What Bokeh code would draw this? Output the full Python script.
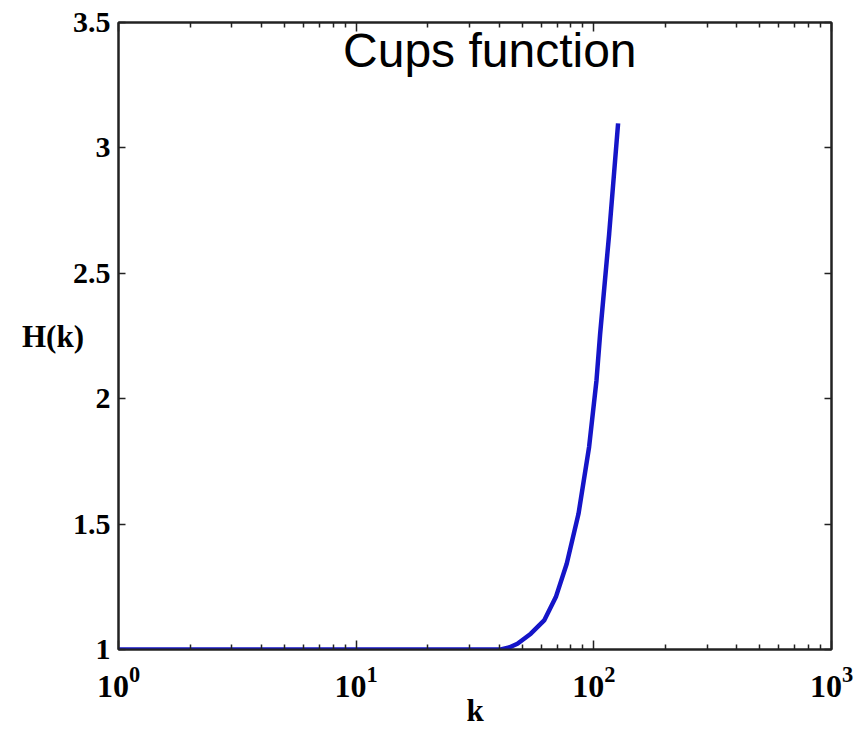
from bokeh.plotting import figure
from bokeh.models import Range1d, FixedTicker, LogAxis, LinearAxis, Label
from bokeh.embed import file_html
from bokeh.resources import INLINE

# ---- data ----
k_values = [1, 5, 10, 20, 30, 40.6, 44.0, 47.7, 54.3, 61.8, 69.2, 76.9, 86.2,
            95.5, 102.6, 106.3, 116.0, 126.5]
h_values = [1.0, 1.0, 1.0, 1.0, 1.0, 1.0, 1.008, 1.023, 1.063, 1.116, 1.209,
            1.342, 1.541, 1.807, 2.073, 2.259, 2.657, 3.098]

x_major_ticks = [1, 10, 100, 1000]
x_minor_ticks = [2, 3, 4, 5, 6, 7, 8, 9,
                 20, 30, 40, 50, 60, 70, 80, 90,
                 200, 300, 400, 500, 600, 700, 800, 900]
y_ticks = [1, 1.5, 2, 2.5, 3, 3.5]
y_tick_labels = ["1", "1.5", "2", "2.5", "3", "3.5"]

title_text = "Cups function"
x_label = "k"
y_label = "H(k)"

SERIF = "Liberation Serif"

p = figure(width=865, height=731, x_axis_type="log",
           x_range=Range1d(1, 1000), y_range=Range1d(1, 3.5),
           output_backend="svg", toolbar_location=None,
           min_border_left=118, min_border_right=34,
           min_border_top=22, min_border_bottom=82)
p.title.visible = False
p.background_fill_color = "white"
p.border_fill_color = "white"
p.outline_line_color = "#222222"
p.outline_line_width = 2
p.xgrid.visible = False
p.ygrid.visible = False

p.line(k_values, h_values, line_color="#1515c8", line_width=4.5)

# bottom x axis
xa = p.xaxis[0]
xa.ticker = FixedTicker(ticks=x_major_ticks, minor_ticks=x_minor_ticks)
xa.major_tick_in = 9
xa.major_tick_out = 0
xa.minor_tick_in = 5
xa.minor_tick_out = 0
xa.axis_line_width = 2
xa.axis_line_color = "#222222"
xa.major_tick_line_color = "#222222"
xa.minor_tick_line_color = "#222222"
xa.major_tick_line_width = 1.5
xa.minor_tick_line_width = 1.5
xa.major_label_text_font = SERIF
xa.major_label_text_font_style = "bold"
xa.major_label_text_font_size = "32px"
xa.major_label_text_color = "black"
xa.major_label_standoff = 17
xa.axis_label = x_label
xa.axis_label_text_font = SERIF
xa.axis_label_text_font_style = "bold"
xa.axis_label_text_font_size = "31px"
xa.axis_label_text_color = "black"
xa.axis_label_standoff = -7

# top x axis (ticks only)
xt = LogAxis(ticker=FixedTicker(ticks=x_major_ticks, minor_ticks=x_minor_ticks),
             major_label_text_font_size="2px", major_label_text_color=None,
             major_label_standoff=0,
             major_tick_in=9, major_tick_out=0,
             minor_tick_in=5, minor_tick_out=0,
             axis_line_width=2, axis_line_color="#222222",
             major_tick_line_color="#222222", minor_tick_line_color="#222222",
             major_tick_line_width=1.5, minor_tick_line_width=1.5)
p.add_layout(xt, "above")

# left y axis
ya = p.yaxis[0]
ya.ticker = FixedTicker(ticks=y_ticks)
ya.major_label_overrides = dict(zip(y_ticks, y_tick_labels))
ya.major_tick_in = 7
ya.major_tick_out = 0
ya.minor_tick_line_color = None
ya.axis_line_width = 2
ya.axis_line_color = "#222222"
ya.major_tick_line_color = "#222222"
ya.major_tick_line_width = 1.5
ya.major_label_text_font = SERIF
ya.major_label_text_font_style = "bold"
ya.major_label_text_font_size = "30px"
ya.major_label_text_color = "black"
ya.major_label_standoff = 8
ya.axis_label = y_label
ya.axis_label_orientation = "horizontal"
ya.axis_label_text_font = SERIF
ya.axis_label_text_font_style = "bold"
ya.axis_label_text_font_size = "31px"
ya.axis_label_text_color = "black"
ya.axis_label_standoff = -14

# right y axis (ticks only)
yr = LinearAxis(ticker=FixedTicker(ticks=y_ticks),
                major_label_text_font_size="2px", major_label_text_color=None,
                major_label_standoff=0,
                major_tick_in=7, major_tick_out=0,
                minor_tick_line_color=None,
                axis_line_width=2, axis_line_color="#222222",
                major_tick_line_color="#222222", major_tick_line_width=1.5)
p.add_layout(yr, "right")

# title inside the plot area
p.add_layout(Label(x=36.5, y=3.388, text=title_text, text_align="center",
                   text_baseline="alphabetic", text_font="Liberation Sans",
                   text_font_size="48px", text_color="black"))

open("out.html", "w").write(file_html(p, INLINE))
